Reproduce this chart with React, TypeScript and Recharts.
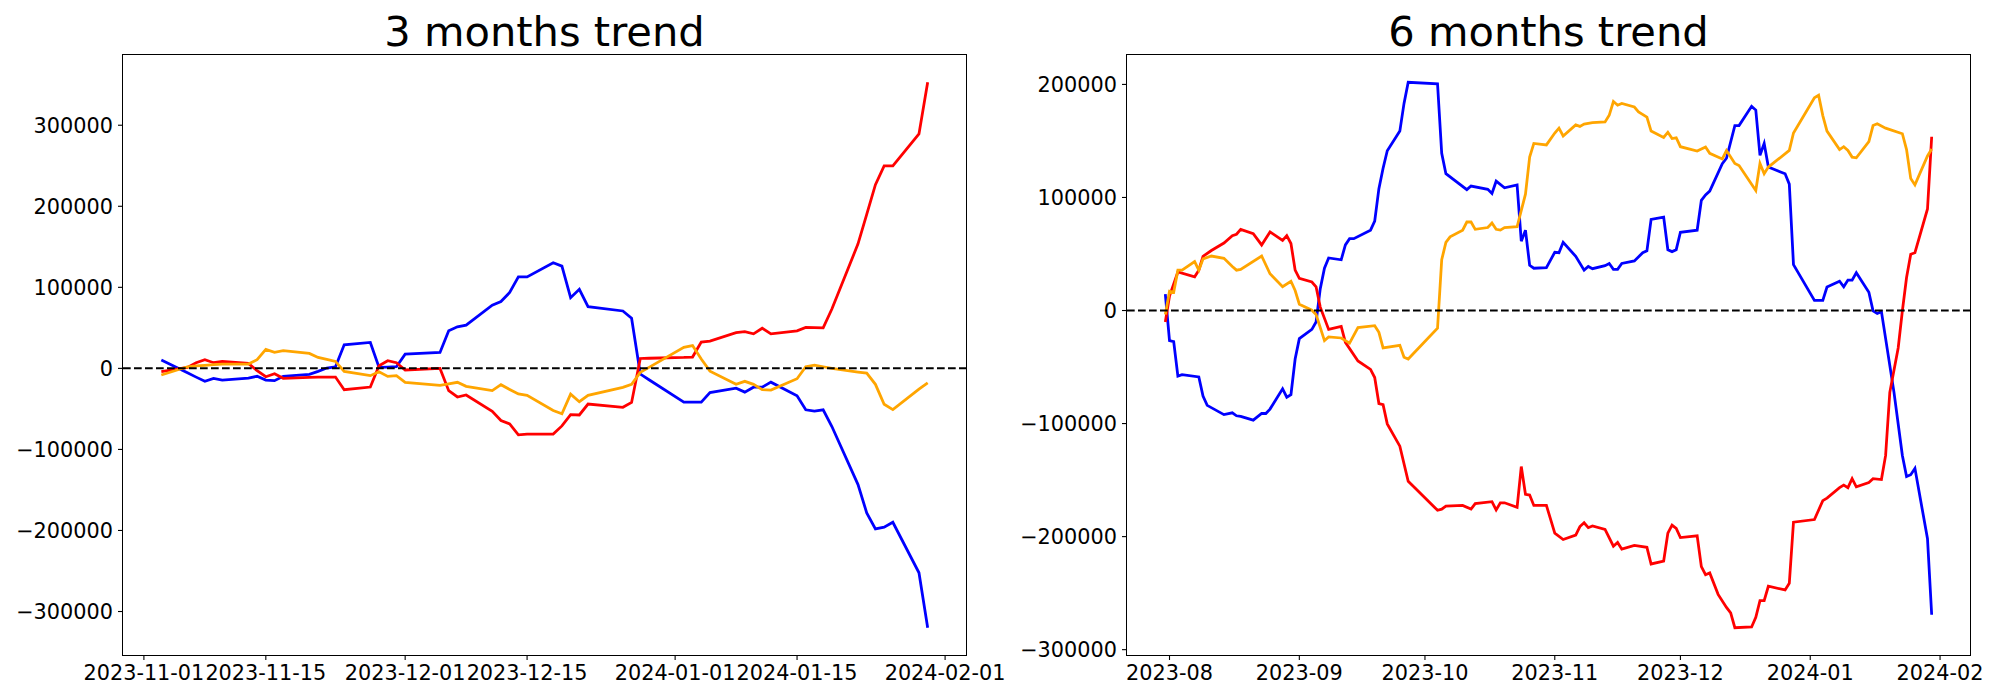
import { Line, LineChart, ReferenceLine, XAxis, YAxis } from "recharts";

const FONT = "'DejaVu Sans', sans-serif";
const DAY = 86400000;

// 3 months: days since 2023-11-01
const BASE3 = Date.UTC(2023, 10, 1);
const days3 = [2, 5, 6, 7, 8, 9, 12, 13, 14, 15, 16, 19, 20, 21, 22, 23, 26, 27, 28, 29, 30, 34, 35, 36, 37, 40, 41, 42, 43, 44, 47, 48, 49, 50, 51, 55, 56, 57, 58, 62, 63, 64, 65, 68, 69, 70, 71, 72, 75, 76, 77, 78, 79, 82, 83, 84, 85, 86, 89, 90];
const blue3 = [10300, -5500, -10800, -16000, -12300, -14400, -11900, -9800, -14400, -15200, -9800, -7400, -3700, 400, 2000, 29100, 32000, 1200, 1500, 2000, 17600, 19700, 46400, 51300, 53400, 78000, 82500, 93600, 112900, 112900, 130300, 126200, 87200, 97500, 76100, 70800, 61800, -7000, -14000, -41600, -41600, -41600, -29800, -24400, -29300, -23200, -23200, -17000, -33900, -51100, -52700, -51100, -71700, -143400, -178300, -198000, -196000, -189900, -252200, -320000];
const red3 = [-4100, 1200, 7000, 10700, 7000, 8600, 6200, -2900, -10300, -6600, -12300, -11000, -10800, -10700, -10700, -26300, -23000, 3300, 9400, 7000, -2000, 0, -27500, -35300, -32800, -53000, -64400, -68600, -82100, -81000, -81100, -71000, -57000, -57500, -44000, -48000, -42000, 12200, 12500, 13500, 14000, 32500, 33700, 44000, 45400, 42600, 49500, 42600, 46300, 50500, 50300, 50000, 73200, 153600, 190000, 226600, 249800, 249800, 289300, 353000];
const orange3 = [-8200, 2000, 3000, 3700, 4500, 5300, 5300, 10700, 23400, 19700, 21800, 18500, 13500, 11000, 8600, -3700, -9000, -4100, -9900, -9000, -17200, -20900, -19000, -17200, -22200, -27500, -20100, -26000, -31600, -33300, -52000, -56000, -31800, -41100, -33300, -23400, -19700, -4900, 1200, 25900, 28100, 11500, -3400, -19700, -16000, -19700, -26200, -26800, -12800, 2100, 3900, 2000, 0, -4500, -5800, -19700, -44300, -50900, -25700, -18000];
const ticks3 = [0, 14, 30, 44, 61, 75, 92];

// 6 months: days since 2023-08-01
const BASE6 = Date.UTC(2023, 7, 1);
const blueDays6 = [-1, 0, 1, 2, 3, 7, 8, 9, 13, 15, 16, 17, 20, 22, 23, 24, 27, 28, 29, 30, 31, 34, 35, 36, 37, 38, 41, 42, 43, 44, 48, 49, 50, 51, 52, 55, 56, 57, 64, 65, 66, 71, 72, 76, 77, 78, 80, 83, 84, 85, 86, 87, 90, 92, 93, 94, 97, 99, 100, 101, 104, 105, 106, 107, 108, 111, 113, 114, 115, 118, 119, 120, 121, 122, 126, 127, 128, 129, 132, 133, 135, 136, 139, 140, 141, 142, 143, 147, 148, 149, 154, 156, 157, 160, 161, 162, 163, 164, 167, 168, 169, 170, 173, 175, 176, 177, 178, 181, 182];
const blueVals6 = [14400, -26600, -27500, -58000, -56700, -58700, -75700, -83900, -92100, -90500, -93100, -93700, -97000, -91100, -91100, -87200, -69200, -76700, -74400, -42900, -24900, -16700, -10200, 19300, 37400, 46500, 44900, 58000, 63600, 63600, 71100, 79000, 107800, 125900, 141300, 158700, 183200, 201900, 200600, 139000, 121000, 106900, 110100, 107200, 103600, 114400, 108500, 111100, 61300, 71100, 40000, 37400, 38000, 51500, 51100, 60300, 47900, 35700, 39000, 37000, 39700, 41600, 36400, 36400, 41600, 43900, 51100, 52800, 80600, 82600, 53800, 52100, 53800, 69200, 71100, 97400, 102300, 105600, 129800, 134700, 163600, 163600, 180600, 177300, 137300, 147800, 126900, 121000, 111800, 40600, 8900, 8900, 20700, 25900, 21000, 26900, 26900, 33400, 16100, -300, -2600, -1000, -72400, -128200, -146900, -145200, -139600, -201900, -269100];
const redDays6 = [-1, 0, 2, 6, 7, 8, 10, 13, 15, 16, 17, 20, 22, 24, 27, 28, 29, 30, 31, 34, 35, 36, 38, 41, 42, 45, 48, 49, 50, 51, 52, 55, 57, 64, 65, 66, 70, 72, 73, 77, 78, 79, 80, 83, 84, 85, 86, 87, 90, 92, 94, 97, 98, 99, 100, 101, 104, 106, 107, 108, 111, 114, 115, 118, 119, 120, 121, 122, 126, 127, 128, 129, 131, 133, 134, 135, 139, 140, 141, 142, 143, 147, 148, 149, 154, 156, 157, 160, 161, 162, 163, 164, 167, 168, 170, 171, 172, 174, 175, 176, 177, 178, 181, 182];
const redVals6 = [-10200, 12800, 34100, 29800, 35700, 47900, 53100, 59700, 66200, 67500, 71800, 67900, 58000, 69500, 62000, 66200, 59300, 35700, 28500, 25200, 21000, 3000, -16700, -14100, -28200, -44600, -52100, -59300, -82300, -83300, -100300, -120000, -151100, -176700, -175700, -173100, -172400, -175700, -170800, -169100, -176400, -170100, -170100, -174100, -138000, -162600, -163200, -172400, -172400, -197000, -202600, -198600, -191100, -187800, -192100, -190500, -193700, -208500, -205200, -211100, -207800, -209500, -224200, -221600, -197000, -189800, -192800, -200900, -199300, -226500, -233700, -232100, -251100, -262600, -267500, -280600, -279900, -271400, -256700, -256700, -243900, -247200, -241300, -187200, -184900, -168200, -165900, -156700, -154400, -156700, -148800, -156000, -152100, -148800, -149500, -128200, -72400, -33100, -300, 29200, 49800, 51100, 89800, 153700];
const orangeDays6 = [-1, 0, 1, 2, 3, 6, 7, 8, 10, 13, 15, 16, 17, 22, 24, 27, 29, 30, 31, 34, 35, 37, 38, 41, 43, 45, 49, 50, 51, 55, 56, 57, 64, 65, 66, 67, 70, 71, 72, 73, 76, 77, 78, 79, 80, 83, 85, 86, 87, 90, 92, 93, 94, 97, 98, 99, 101, 104, 105, 106, 107, 108, 111, 112, 114, 115, 118, 119, 120, 121, 122, 126, 128, 129, 132, 133, 135, 136, 140, 141, 142, 143, 148, 149, 154, 155, 156, 157, 160, 161, 162, 163, 164, 167, 168, 169, 171, 175, 176, 177, 178, 181, 182];
const orangeVals6 = [-3600, 17000, 16100, 35700, 35700, 43300, 35700, 45600, 48200, 46200, 39000, 35700, 36400, 48200, 32500, 21000, 25900, 17700, 5600, 300, -3600, -26600, -23300, -24300, -28800, -15100, -13400, -19300, -33100, -30800, -41300, -42900, -15700, 44900, 60300, 65200, 71100, 78300, 78300, 71800, 73400, 77400, 71800, 71100, 73400, 74100, 102900, 135700, 147800, 146500, 157000, 161300, 154400, 164200, 162900, 164900, 166200, 166800, 172700, 184900, 181600, 183200, 180000, 175700, 171100, 158700, 153100, 157700, 152100, 152800, 144900, 141000, 144600, 139000, 134100, 141600, 130100, 128200, 106200, 130100, 121000, 126900, 141600, 157000, 188200, 190500, 172400, 158700, 142300, 144900, 141600, 135700, 135100, 149500, 163600, 165200, 161300, 156400, 142300, 116700, 111100, 136700, 142900];
const ticks6 = [0, 31, 61, 92, 122, 153, 184];

const yTicks3 = [-300000, -200000, -100000, 0, 100000, 200000, 300000];
const yTicks6 = [-300000, -200000, -100000, 0, 100000, 200000];

const toPoints = (days: number[], vals: number[]) =>
  days.map((d, i) => ({ d, v: vals[i] }));

// matplotlib-like 5% margins
const pad = (vals: number[]): [number, number] => {
  const lo = Math.min(...vals);
  const hi = Math.max(...vals);
  const m = (hi - lo) * 0.05;
  return [lo - m, hi + m];
};

const fmtY = (v: number) => (v < 0 ? "\u2212" + Math.abs(v) : String(v));
const tickStyle = { fill: "#000", fontSize: 20.8, fontFamily: FONT };

type Series = { color: string; points: { d: number; v: number }[] };

const CHART_W = 1040;

function Panel(props: {
  title: string;
  x: number;
  plotLeft: number;
  plotRight: number;
  yWidth: number;
  series: Series[];
  xDomain: [number, number];
  yDomain: [number, number];
  xTicks: number[];
  yTicks: number[];
  xFmt: (d: number) => string;
}) {
  const { title, x, plotLeft, plotRight, yWidth, series } = props;
  const plotW = plotRight - plotLeft;
  return (
    <>
      <div
        style={{
          position: "absolute",
          left: x + plotLeft,
          top: 10.5,
          width: plotW,
          textAlign: "center",
          fontFamily: FONT,
          fontSize: 41.6,
          lineHeight: "41.6px",
          color: "#000",
          whiteSpace: "nowrap",
        }}
      >
        {title}
      </div>
      <div style={{ position: "absolute", left: x, top: 0 }}>
        <LineChart
          width={CHART_W}
          height={700}
          margin={{ top: 55, right: CHART_W - plotRight, bottom: 5, left: plotLeft - yWidth }}
        >
          <XAxis
            type="number"
            dataKey="d"
            domain={props.xDomain}
            ticks={props.xTicks}
            tickFormatter={props.xFmt}
            allowDataOverflow
            height={40}
            axisLine={false}
            tickSize={5}
            tickMargin={5}
            tickLine={{ stroke: "#000", strokeWidth: 1.1 }}
            tick={tickStyle}
            interval={0}
          />
          <YAxis
            type="number"
            dataKey="v"
            domain={props.yDomain}
            ticks={props.yTicks}
            tickFormatter={fmtY}
            allowDataOverflow
            width={yWidth}
            axisLine={false}
            tickSize={5}
            tickMargin={5}
            tickLine={{ stroke: "#000", strokeWidth: 1.1 }}
            tick={tickStyle}
            interval={0}
          />
          {series.map((s) => (
            <Line
              key={s.color}
              data={s.points}
              dataKey="v"
              type="linear"
              stroke={s.color}
              strokeWidth={2.78}
              dot={false}
              activeDot={false}
              isAnimationActive={false}
            />
          ))}
          <ReferenceLine y={0} stroke="#000" strokeWidth={2} strokeDasharray="7.7 3.3" />
        </LineChart>
      </div>
      <div
        style={{
          position: "absolute",
          left: x + plotLeft - 1,
          top: 54,
          width: plotW + 2,
          height: 602,
          boxSizing: "border-box",
          border: "1.1px solid #000",
          pointerEvents: "none",
        }}
      />
    </>
  );
}

export default function App() {
  const s3: Series[] = [
    { color: "#0000ff", points: toPoints(days3, blue3) },
    { color: "#ff0000", points: toPoints(days3, red3) },
    { color: "#ffa500", points: toPoints(days3, orange3) },
  ];
  const s6: Series[] = [
    { color: "#0000ff", points: toPoints(blueDays6, blueVals6) },
    { color: "#ff0000", points: toPoints(redDays6, redVals6) },
    { color: "#ffa500", points: toPoints(orangeDays6, orangeVals6) },
  ];
  const fmt3 = (d: number) => new Date(BASE3 + d * DAY).toISOString().slice(0, 10);
  const fmt6 = (d: number) => new Date(BASE6 + d * DAY).toISOString().slice(0, 7);

  return (
    <div
      style={{
        position: "absolute",
        left: 0,
        top: 0,
        width: 2000,
        height: 700,
        background: "#fff",
        overflow: "hidden",
      }}
    >
      <Panel
        title="3 months trend"
        x={0}
        plotLeft={123}
        plotRight={966}
        yWidth={100}
        series={s3}
        xDomain={pad(days3)}
        yDomain={pad([...blue3, ...red3, ...orange3])}
        xTicks={ticks3}
        yTicks={yTicks3}
        xFmt={fmt3}
      />
      <Panel
        title="6 months trend"
        x={1000}
        plotLeft={127}
        plotRight={970}
        yWidth={110}
        series={s6}
        xDomain={pad([...blueDays6, ...redDays6, ...orangeDays6])}
        yDomain={pad([...blueVals6, ...redVals6, ...orangeVals6])}
        xTicks={ticks6}
        yTicks={yTicks6}
        xFmt={fmt6}
      />
    </div>
  );
}
